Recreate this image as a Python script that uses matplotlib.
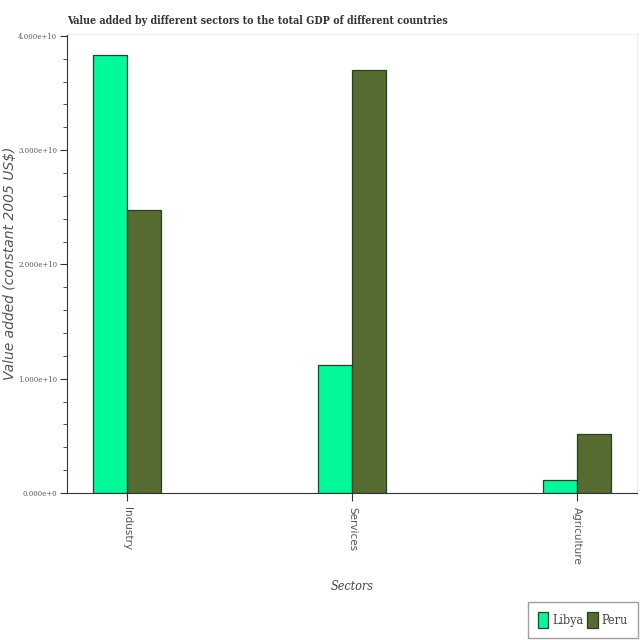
import matplotlib
matplotlib.use("Agg")
import matplotlib.pyplot as plt
import numpy as np
from matplotlib import font_manager
from matplotlib.font_manager import FontProperties
from matplotlib.ticker import FuncFormatter, MultipleLocator

sectors = ["Industry", "Services", "Agriculture"]
libya = [38.3e9, 11.2e9, 1.15e9]
peru = [24.8e9, 37.0e9, 5.2e9]
countries = ["Libya", "Peru"]
colors = ["#00FA9A", "#556B2F"]

# look for a condensed serif face; fall back to Liberation Serif
ttf = font_manager.fontManager.ttflist
narrow = [f for f in ttf if "serif" in f.name.lower() and "sans" not in f.name.lower()
          and str(f.stretch) in ("condensed", "semi-condensed", "extra-condensed")]
prefs = ["DejaVu Serif", "Noto Serif", "PT Serif", "Roboto Serif", "Source Serif"]


def cond(bold=False, italic=False, size=10):
    w_ok = [f for f in narrow
            if (f.weight in (700, "bold")) == bold and (f.style == "italic") == italic]
    for p in prefs:
        hit = [f for f in w_ok if f.name.startswith(p) and "Display" not in f.name]
        if hit:
            return FontProperties(fname=sorted(hit, key=lambda f: f.fname)[0].fname, size=size)
    return FontProperties(family="Liberation Serif", weight="bold" if bold else "normal",
                          style="italic" if italic else "normal", size=size * 0.95)


fig = plt.figure(figsize=(6.4, 6.4), dpi=100)
ax = fig.add_axes([0.1047, 0.2297, 0.8906, 0.7173])

x = np.arange(len(sectors))
w = 0.151
ax.bar(x - w / 2, libya, w, color=colors[0], edgecolor="#2b3d2b", linewidth=0.9, label=countries[0])
ax.bar(x + w / 2, peru, w, color=colors[1], edgecolor="#2b3d2b", linewidth=0.9, label=countries[1])

ax.set_xlim(-0.267, 2.267)
ax.set_ylim(0, 4.017e10)

ax.yaxis.set_major_locator(MultipleLocator(1e10))
ax.yaxis.set_minor_locator(MultipleLocator(2e9))


def fmt(v, pos):
    m, e = ("%.3e" % v).split("e")
    return "%se%+d" % (m, int(e))


ax.yaxis.set_major_formatter(FuncFormatter(fmt))
ax.set_xticks(x)
ax.set_xticklabels(sectors, rotation=-90, fontsize=7.5, color="#555555")
for t in ax.get_yticklabels():
    t.set_fontproperties(cond(size=5.6))
    t.set_color("#555555")

ax.tick_params(axis="x", length=6, color="#333333", pad=4)
ax.tick_params(axis="y", which="major", length=5, color="#333333", pad=2)
ax.tick_params(axis="y", which="minor", length=3, color="#333333")

ax.spines["top"].set_color("#eeeeee")
ax.spines["right"].set_color("#eeeeee")
ax.spines["left"].set_color("#333333")
ax.spines["bottom"].set_color("#333333")

ax.set_ylabel("Value added (constant 2005 US$)", fontsize=10, style="italic",
              color="#555555")
ax.yaxis.set_label_coords(-0.088, 0.5)
ax.set_xlabel("Sectors", fontproperties=cond(italic=True, size=9), color="#444444")
ax.xaxis.set_label_coords(0.5, -0.19)

fig.text(0.105, 0.962, "Value added by different sectors to the total GDP of different countries",
         fontproperties=cond(bold=True, size=7.7), color="#333333")

leg = fig.legend(loc="lower right", bbox_to_anchor=(1.006, -0.006), ncol=2,
                 prop=cond(size=9), handlelength=0.85, handleheight=1.5, handletextpad=0.3,
                 columnspacing=0.3, fancybox=False, borderpad=0.8)
leg.get_frame().set_edgecolor("#888888")
for t in leg.get_texts():
    t.set_color("#444444")

fig.savefig("out.png", dpi=100)
